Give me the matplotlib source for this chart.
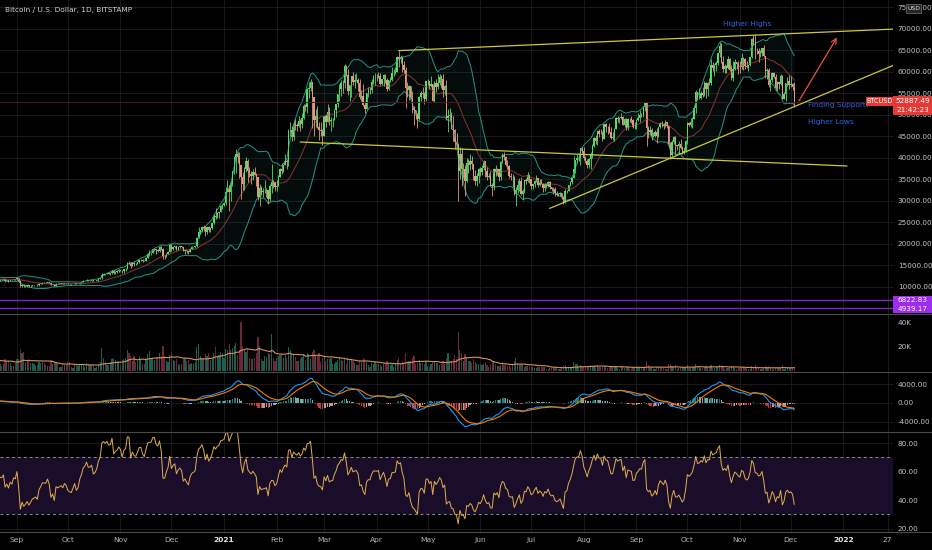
import numpy as np
import pandas as pd
import matplotlib
matplotlib.use('Agg')
import matplotlib.pyplot as plt
import matplotlib.dates as mdates
from matplotlib.patches import Rectangle
from matplotlib.lines import Line2D

# daily candles, first day
start_date = '2020-07-18'
first_open = 9.10

# closes, thousands USD (one row per month)
closes = [
    9.16, 9.19, 9.16, 9.39, 9.54, 9.61, 9.55, 9.71, 9.93, 11.03, 10.94, 11.10, 11.11, 11.35,
    11.80, 11.07, 11.23, 11.19, 11.74, 11.77, 11.60, 11.75, 11.68, 11.88, 11.41, 11.58, 11.78, 11.77, 11.87, 11.91, 12.29, 11.95, 11.75, 11.87, 11.52, 11.67, 11.65, 11.77, 11.35, 11.47, 11.32, 11.54, 11.47, 11.71, 11.68,
    11.97, 11.42, 10.17, 10.47, 10.17, 10.26, 10.37, 10.13, 10.24, 10.36, 10.40, 10.44, 10.33, 10.68, 10.79, 10.95, 10.94, 10.93, 11.08, 10.92, 10.42, 10.53, 10.24, 10.74, 10.69, 10.73, 10.77, 10.70, 10.84, 10.78,
    10.62, 10.57, 10.55, 10.67, 10.79, 10.60, 10.67, 10.92, 11.06, 11.30, 11.38, 11.54, 11.43, 11.43, 11.50, 11.32, 11.36, 11.48, 11.75, 11.92, 12.82, 12.97, 12.93, 13.12, 13.04, 13.07, 13.65, 13.27, 13.46, 13.56, 13.80,
    13.74, 13.55, 14.03, 14.16, 15.59, 15.58, 14.83, 15.48, 15.33, 15.30, 15.70, 16.28, 16.32, 16.07, 15.96, 16.73, 17.66, 17.80, 17.82, 18.68, 18.70, 18.42, 18.37, 19.16, 18.73, 17.15, 17.14, 17.72, 18.18, 19.70,
    18.80, 19.21, 19.44, 18.65, 19.15, 19.36, 19.17, 18.32, 18.55, 18.26, 18.04, 18.80, 19.17, 19.27, 19.44, 21.34, 22.80, 23.13, 23.87, 23.47, 22.75, 23.82, 23.24, 23.73, 24.71, 26.49, 26.28, 27.08, 27.36, 28.84, 29.00,
    29.37, 32.13, 32.78, 31.97, 33.99, 36.82, 39.37, 40.80, 40.25, 38.24, 35.55, 33.92, 37.32, 39.19, 36.82, 36.18, 35.79, 36.63, 36.07, 35.47, 30.85, 33.00, 32.07, 32.28, 32.37, 32.57, 30.43, 33.47, 34.32, 34.27, 33.11,
    33.52, 35.51, 37.47, 36.93, 38.30, 39.26, 38.90, 46.20, 46.48, 44.92, 47.91, 47.50, 47.26, 48.58, 47.91, 49.15, 52.10, 51.68, 55.89, 56.10, 57.53, 54.21, 48.82, 49.71, 47.10, 46.34, 46.19, 45.14,
    49.63, 48.38, 50.54, 48.44, 48.86, 48.88, 51.03, 52.39, 54.88, 55.88, 57.48, 57.33, 61.24, 59.30, 55.60, 56.90, 58.91, 57.65, 58.03, 58.10, 57.35, 54.08, 54.34, 52.30, 51.29, 55.03, 55.82, 55.78, 57.60, 58.76, 58.80,
    58.73, 58.97, 57.06, 58.20, 59.13, 57.99, 56.00, 57.97, 58.09, 59.77, 59.79, 59.99, 63.50, 62.96, 63.31, 61.57, 60.39, 56.15, 55.71, 56.57, 53.81, 51.73, 51.15, 50.05, 49.00, 54.02, 55.05, 54.88, 53.58, 57.75,
    57.83, 56.63, 57.20, 53.24, 57.48, 56.44, 57.33, 58.85, 58.23, 55.86, 56.70, 49.15, 49.72, 49.88, 46.76, 46.45, 43.54, 42.91, 37.00, 40.78, 37.30, 37.47, 34.66, 38.80, 38.32, 39.24, 38.43, 35.69, 34.61, 35.68, 37.29,
    36.69, 37.57, 39.19, 36.88, 35.52, 35.80, 33.55, 33.40, 37.39, 36.70, 37.31, 35.55, 39.02, 40.53, 40.14, 38.35, 38.05, 35.79, 35.48, 35.60, 31.61, 32.51, 33.68, 34.66, 31.59, 32.28, 34.70, 34.49, 35.91, 35.04,
    33.50, 33.80, 34.67, 35.29, 33.69, 34.22, 33.86, 32.88, 33.82, 33.52, 34.26, 33.09, 32.73, 32.82, 31.78, 31.42, 31.53, 31.80, 30.84, 29.79, 32.14, 32.31, 33.58, 34.29, 35.38, 37.27, 39.46, 40.02, 40.02, 42.21, 41.46,
    39.86, 39.15, 38.21, 39.74, 40.87, 42.82, 44.61, 43.79, 46.29, 45.60, 45.58, 44.43, 47.79, 47.10, 47.04, 45.94, 44.69, 44.71, 46.76, 49.34, 48.90, 49.32, 49.55, 47.71, 48.99, 46.85, 49.07, 48.90, 48.81, 47.05, 47.17,
    48.85, 49.29, 50.03, 49.94, 51.77, 52.66, 46.86, 46.07, 46.39, 44.85, 45.16, 46.02, 44.95, 47.13, 48.15, 47.75, 47.30, 48.31, 47.26, 42.99, 40.69, 43.57, 44.90, 42.84, 42.72, 43.21, 42.23, 41.03, 41.52, 43.79,
    48.12, 47.70, 48.21, 49.11, 51.51, 55.36, 53.81, 53.97, 54.96, 54.69, 57.48, 56.04, 57.40, 57.36, 61.67, 60.88, 61.53, 62.04, 64.26, 65.99, 62.21, 60.69, 61.39, 60.93, 63.04, 60.36, 58.47, 60.62, 62.27, 61.89, 61.32,
    61.00, 63.23, 62.94, 61.44, 61.01, 61.53, 63.33, 67.57, 66.97, 64.88, 64.80, 64.14, 64.40, 65.47, 63.56, 60.16, 60.39, 56.89, 58.06, 59.71, 58.73, 56.30, 57.54, 57.14, 58.96, 53.73, 54.74, 57.29, 57.81, 56.98,
    57.23, 56.49, 52.89,
]

highs = [
    9.20, 9.23, 9.22, 9.43, 9.55, 9.66, 9.64, 9.73, 10.10, 11.40, 11.24, 11.34, 11.17, 11.44,
    11.86, 12.05, 11.47, 11.40, 11.78, 11.90, 11.90, 11.80, 11.81, 12.05, 11.93, 11.65, 11.79, 11.85, 11.98, 11.94, 12.46, 12.32, 12.01, 11.89, 11.89, 11.69, 11.72, 11.83, 11.79, 11.53, 11.59, 11.55, 11.57, 11.72, 11.79,
    12.07, 11.98, 11.47, 10.60, 10.57, 10.35, 10.40, 10.44, 10.35, 10.49, 10.40, 10.48, 10.56, 10.79, 10.94, 11.10, 11.04, 11.04, 11.18, 11.08, 10.98, 10.57, 10.57, 10.78, 10.77, 10.80, 10.81, 10.95, 10.87, 10.85,
    10.93, 10.66, 10.60, 10.69, 10.80, 10.80, 10.69, 10.95, 11.10, 11.49, 11.43, 11.72, 11.55, 11.55, 11.55, 11.54, 11.40, 11.50, 11.82, 12.03, 13.22, 13.18, 13.03, 13.16, 13.35, 13.24, 13.78, 13.86, 13.64, 13.67, 14.09,
    13.87, 13.82, 14.07, 14.26, 15.76, 15.96, 15.77, 15.66, 15.83, 15.46, 15.96, 16.34, 16.48, 16.33, 16.14, 16.88, 17.85, 18.48, 18.14, 18.80, 18.96, 18.70, 18.77, 19.42, 19.48, 18.92, 17.43, 17.88, 18.35, 19.86,
    19.92, 19.31, 19.57, 19.52, 19.17, 19.41, 19.40, 19.29, 18.64, 18.56, 18.27, 18.95, 19.41, 19.33, 19.57, 21.55, 23.80, 23.27, 24.17, 24.28, 24.10, 23.84, 24.10, 23.79, 24.80, 26.88, 28.39, 27.40, 27.39, 28.99, 29.30,
    29.60, 33.30, 34.78, 33.60, 34.50, 36.90, 40.36, 41.95, 41.35, 41.40, 38.30, 36.60, 37.80, 40.10, 39.70, 37.90, 36.80, 37.30, 37.80, 36.40, 35.60, 33.80, 33.50, 32.90, 34.80, 32.90, 32.60, 33.80, 38.50, 34.90, 34.40,
    34.70, 35.90, 37.65, 38.70, 38.30, 40.90, 39.70, 46.70, 48.20, 47.30, 48.60, 48.90, 48.10, 49.70, 49.00, 50.50, 52.50, 52.50, 56.30, 57.50, 58.35, 57.50, 54.20, 51.40, 52.00, 48.40, 48.30, 46.60,
    49.80, 50.20, 52.60, 51.70, 49.40, 49.20, 51.40, 52.40, 54.90, 57.20, 58.00, 58.00, 61.70, 61.50, 60.60, 56.90, 58.90, 60.00, 59.40, 59.80, 58.50, 58.40, 55.80, 57.20, 53.20, 55.10, 56.50, 56.50, 58.30, 59.30, 59.80,
    59.40, 60.00, 59.70, 58.40, 59.40, 59.40, 58.60, 58.10, 58.80, 61.00, 60.70, 61.20, 63.70, 64.80, 63.80, 63.50, 62.50, 61.00, 57.50, 57.00, 56.70, 55.40, 52.00, 51.20, 50.50, 54.30, 55.40, 56.40, 55.20, 57.90,
    58.40, 57.90, 58.90, 57.20, 57.80, 58.30, 59.50, 59.50, 59.20, 59.50, 56.80, 58.00, 51.30, 51.50, 50.60, 49.70, 46.60, 45.80, 43.50, 42.40, 42.20, 38.80, 38.20, 39.90, 39.70, 40.80, 40.40, 38.20, 37.20, 36.40, 37.50,
    37.90, 38.20, 39.45, 39.20, 37.90, 36.40, 36.80, 34.10, 37.50, 38.30, 37.60, 37.40, 39.30, 41.00, 41.30, 40.50, 39.50, 38.20, 36.40, 36.20, 35.70, 33.30, 34.80, 35.20, 35.50, 32.70, 34.70, 35.30, 36.60, 36.00,
    35.00, 33.90, 34.90, 35.90, 35.30, 35.00, 35.00, 33.90, 34.00, 34.20, 34.60, 34.60, 33.30, 33.10, 33.20, 32.20, 31.90, 32.10, 31.90, 31.00, 32.80, 32.60, 33.60, 34.50, 35.40, 40.50, 39.50, 40.90, 40.60, 42.30, 42.40,
    42.60, 40.40, 39.70, 39.90, 41.40, 43.30, 44.70, 45.30, 46.40, 46.70, 46.70, 46.20, 47.90, 48.10, 47.40, 48.00, 47.10, 46.00, 47.00, 49.40, 49.80, 49.50, 50.50, 49.80, 49.20, 49.30, 49.20, 49.30, 49.60, 48.90, 48.20,
    48.90, 50.40, 51.00, 50.50, 51.90, 52.90, 52.90, 47.30, 47.30, 47.00, 45.90, 46.40, 46.80, 47.20, 48.40, 48.50, 48.10, 48.80, 48.30, 47.30, 43.60, 44.00, 44.95, 45.00, 42.90, 43.90, 44.30, 42.80, 42.60, 44.10,
    48.40, 48.30, 49.20, 49.50, 51.90, 55.80, 55.30, 56.10, 55.50, 56.40, 57.80, 57.60, 57.70, 58.50, 62.90, 62.30, 61.70, 62.60, 64.40, 67.00, 66.60, 63.70, 61.70, 61.50, 63.70, 63.30, 61.50, 62.50, 62.90, 62.30, 62.40,
    62.40, 64.30, 63.50, 63.10, 62.60, 61.60, 63.40, 67.80, 68.50, 68.80, 65.60, 65.50, 65.00, 65.50, 66.30, 63.60, 60.80, 60.90, 58.40, 59.90, 60.00, 59.50, 57.80, 57.70, 59.40, 59.20, 55.30, 57.40, 58.80, 59.20,
    59.00, 57.40, 57.60,
]

lows = [
    9.09, 9.11, 9.13, 9.15, 9.29, 9.48, 9.43, 9.53, 9.68, 9.90, 10.62, 10.84, 10.83, 10.99,
    11.23, 10.65, 11.02, 11.02, 11.09, 11.59, 11.35, 11.53, 11.55, 11.67, 11.14, 11.27, 11.32, 11.66, 11.70, 11.68, 11.84, 11.82, 11.60, 11.68, 11.49, 11.38, 11.53, 11.59, 11.15, 11.30, 11.13, 11.29, 11.43, 11.46, 11.60,
    11.53, 11.20, 10.01, 9.96, 9.88, 10.03, 9.87, 9.85, 10.03, 10.20, 10.20, 10.30, 10.21, 10.25, 10.63, 10.67, 10.75, 10.82, 10.90, 10.79, 10.36, 10.37, 10.14, 10.20, 10.53, 10.65, 10.62, 10.65, 10.65, 10.69,
    10.55, 10.38, 10.50, 10.52, 10.64, 10.54, 10.57, 10.64, 10.83, 11.05, 11.28, 11.23, 11.30, 11.31, 11.29, 11.24, 11.31, 11.33, 11.41, 11.69, 11.90, 12.69, 12.72, 12.88, 12.89, 12.78, 13.05, 12.94, 12.99, 13.14, 13.44,
    13.62, 13.21, 13.29, 13.55, 14.09, 15.19, 14.37, 14.72, 14.85, 15.09, 15.28, 15.45, 15.95, 15.72, 15.87, 15.89, 16.56, 17.22, 17.35, 17.78, 18.41, 17.62, 18.00, 18.04, 18.54, 16.33, 16.44, 16.88, 17.51, 18.18,
    18.33, 18.52, 18.93, 18.58, 18.62, 18.93, 18.92, 18.20, 17.65, 17.93, 17.58, 18.02, 18.71, 19.00, 19.05, 19.29, 21.23, 22.35, 22.80, 23.06, 21.82, 22.35, 22.65, 22.72, 23.43, 24.50, 25.86, 25.99, 25.88, 27.34, 27.96,
    28.70, 28.94, 32.00, 27.70, 29.90, 33.40, 36.30, 36.50, 38.70, 35.20, 30.30, 32.50, 32.40, 36.70, 34.40, 35.40, 33.90, 34.80, 35.90, 33.40, 30.10, 28.85, 31.40, 30.90, 31.90, 30.80, 29.24, 30.00, 31.90, 32.90, 32.20,
    32.30, 33.40, 35.40, 36.20, 36.60, 38.20, 37.40, 38.10, 45.00, 43.80, 44.20, 46.40, 46.20, 47.10, 46.30, 47.00, 48.90, 50.90, 50.50, 53.90, 55.50, 47.00, 45.00, 47.10, 46.80, 44.10, 45.00, 43.00,
    45.10, 47.10, 48.20, 47.50, 46.30, 47.10, 48.80, 49.40, 51.85, 53.10, 54.30, 55.10, 56.10, 59.00, 54.60, 53.30, 54.20, 57.00, 56.30, 57.90, 55.60, 53.70, 53.10, 52.10, 50.40, 51.40, 54.00, 54.80, 55.00, 57.20, 56.90,
    57.90, 58.50, 56.90, 56.80, 56.60, 57.30, 55.40, 55.70, 57.50, 57.90, 59.00, 59.40, 59.90, 61.00, 62.00, 60.00, 59.80, 51.50, 54.20, 53.50, 53.60, 50.50, 47.50, 48.90, 47.00, 48.80, 53.30, 53.90, 52.40, 53.10,
    57.00, 56.00, 56.50, 53.10, 52.90, 55.20, 56.00, 56.90, 56.30, 54.00, 54.50, 48.70, 46.00, 48.80, 46.60, 43.80, 42.10, 42.30, 30.00, 35.00, 33.50, 35.30, 31.20, 34.40, 36.50, 37.20, 37.30, 34.70, 33.60, 33.40, 34.20,
    35.70, 35.90, 37.20, 35.60, 34.80, 35.30, 33.40, 31.00, 32.40, 35.80, 35.90, 34.60, 34.80, 38.80, 39.50, 38.10, 37.40, 35.20, 34.80, 33.30, 31.30, 28.80, 31.70, 32.30, 31.30, 30.20, 31.90, 33.90, 34.30, 34.00,
    32.70, 32.70, 33.30, 34.30, 33.20, 33.50, 33.80, 32.10, 32.30, 33.00, 33.30, 32.70, 32.30, 31.60, 31.20, 31.10, 31.20, 31.20, 30.50, 29.30, 29.50, 31.70, 32.20, 33.40, 33.90, 35.30, 36.40, 38.80, 39.30, 38.40, 41.10,
    39.50, 38.70, 37.60, 37.50, 37.40, 39.90, 42.50, 43.10, 42.90, 44.70, 45.40, 43.80, 44.30, 46.00, 45.50, 45.70, 44.40, 44.20, 43.90, 46.70, 48.30, 48.10, 49.10, 47.60, 47.20, 46.40, 46.40, 48.40, 48.00, 46.90, 46.70,
    46.60, 48.60, 48.40, 49.50, 49.50, 50.90, 42.80, 44.50, 45.60, 44.20, 44.80, 44.80, 43.40, 44.80, 46.80, 47.10, 46.70, 47.10, 46.90, 42.60, 39.60, 40.50, 43.10, 40.80, 41.70, 40.80, 42.10, 40.90, 40.80, 41.40,
    43.30, 47.40, 47.10, 46.90, 49.10, 50.40, 53.40, 53.70, 53.70, 54.10, 54.40, 53.90, 54.30, 56.90, 56.90, 60.20, 58.90, 60.20, 61.50, 63.50, 62.00, 60.00, 59.70, 59.60, 60.70, 60.10, 58.10, 57.80, 60.30, 60.70, 59.50,
    59.80, 60.70, 60.40, 60.70, 60.80, 60.20, 61.40, 63.20, 66.30, 63.00, 64.10, 62.30, 63.50, 63.60, 63.40, 58.60, 58.40, 56.50, 55.60, 57.50, 58.50, 55.70, 55.40, 55.90, 57.00, 53.60, 53.70, 53.30, 56.70, 56.00,
    56.50, 55.80, 51.70,
]

# volume, thousands BTC
volumes = [
    3.8, 3.6, 3.9, 5.7, 5.9, 6.3, 5.4, 4.7, 8.1, 21.3, 15.8, 11.7, 9.2, 9.8,
    11.9, 18.8, 9.3, 8.6, 11.1, 9.0, 9.5, 5.7, 5.3, 10.4, 13.2, 9.2, 9.9, 7.1, 6.2, 5.9, 11.7, 9.8, 10.1, 6.5, 8.4, 5.4, 4.2, 5.9, 9.6, 7.4, 8.3, 6.6, 4.1, 4.4, 6.2,
    9.5, 10.2, 18.0, 14.5, 15.5, 7.0, 9.0, 9.5, 6.5, 6.8, 5.5, 3.8, 4.5, 7.5, 6.8, 7.2, 6.5, 5.0, 4.2, 4.0, 9.0, 5.5, 7.0, 7.5, 5.5, 3.2, 3.0, 5.5, 4.8, 4.5,
    7.0, 7.5, 2.8, 2.6, 4.5, 5.5, 4.0, 5.5, 6.0, 5.5, 3.0, 6.5, 5.5, 4.8, 4.5, 5.0, 2.5, 2.8, 5.5, 7.0, 19.0, 11.0, 7.5, 5.0, 5.0, 7.5, 9.5, 11.0, 9.0, 8.5, 7.0,
    5.0, 9.0, 9.5, 10.5, 17.5, 14.5, 12.0, 8.0, 12.0, 7.5, 8.0, 12.0, 9.5, 6.0, 5.5, 9.5, 14.0, 16.5, 11.0, 10.5, 9.0, 10.5, 11.5, 14.5, 12.5, 21.0, 12.5, 8.5, 7.5, 13.5,
    15.5, 9.0, 8.5, 9.5, 5.5, 5.0, 6.0, 9.5, 11.0, 8.0, 9.0, 6.0, 6.5, 6.0, 7.5, 19.5, 22.5, 12.5, 11.0, 10.0, 14.0, 12.0, 15.0, 9.0, 9.5, 14.5, 19.5, 12.0, 13.0, 16.0, 14.5,
    10.5, 18.0, 17.0, 22.0, 17.0, 19.0, 21.0, 23.0, 13.0, 17.0, 41.0, 21.0, 17.5, 16.0, 18.0, 10.5, 10.0, 9.5, 11.0, 15.0, 28.0, 21.0, 9.5, 8.5, 12.0, 11.5, 14.5, 14.0, 31.0, 11.0, 8.5,
    11.0, 12.5, 13.0, 14.0, 10.5, 13.5, 11.0, 20.0, 17.5, 14.0, 13.0, 11.5, 8.5, 8.5, 10.0, 11.5, 14.0, 9.0, 14.5, 14.0, 9.5, 16.0, 17.5, 12.5, 12.0, 15.0, 7.5, 10.5,
    12.0, 8.5, 10.0, 10.0, 11.0, 5.5, 6.0, 7.5, 9.0, 10.5, 9.0, 8.5, 9.5, 5.5, 11.5, 10.0, 9.5, 8.0, 6.5, 4.5, 4.8, 8.5, 7.0, 10.5, 10.0, 7.5, 4.5, 3.5, 6.5, 6.0, 7.0,
    5.5, 5.5, 5.0, 4.0, 5.5, 5.5, 8.0, 5.5, 4.5, 5.5, 3.5, 5.5, 9.0, 11.0, 6.0, 8.5, 5.5, 15.0, 8.5, 8.5, 8.0, 11.0, 12.0, 6.0, 6.5, 9.0, 6.5, 6.5, 6.0, 8.0,
    4.0, 3.5, 5.5, 8.5, 8.0, 6.5, 6.5, 5.0, 5.5, 8.5, 6.0, 11.0, 15.0, 8.0, 8.5, 10.0, 13.0, 10.0, 32.0, 17.0, 14.5, 8.0, 14.0, 11.5, 8.5, 8.0, 6.5, 9.5, 7.0, 5.5, 6.0,
    6.0, 5.0, 5.5, 7.0, 4.5, 3.0, 5.0, 8.5, 7.5, 6.0, 4.0, 4.0, 5.0, 7.0, 5.0, 4.5, 4.0, 5.0, 3.5, 4.5, 8.0, 10.5, 6.0, 4.5, 5.5, 4.5, 3.5, 4.0, 4.0, 3.5,
    3.5, 3.0, 2.0, 2.2, 3.0, 3.0, 2.8, 3.5, 2.8, 1.8, 1.7, 2.6, 2.5, 2.8, 2.8, 2.5, 1.5, 1.6, 2.8, 4.0, 4.5, 2.8, 2.5, 2.0, 3.5, 7.5, 5.5, 5.5, 3.5, 4.5, 2.8,
    3.0, 3.2, 3.5, 3.5, 4.5, 4.0, 4.0, 3.5, 4.5, 3.5, 3.0, 3.5, 3.8, 2.8, 2.7, 3.0, 3.5, 3.0, 3.3, 4.0, 2.5, 1.8, 3.0, 3.2, 2.7, 3.0, 2.8, 1.8, 1.8, 2.8, 3.0,
    3.0, 3.5, 3.5, 2.0, 2.3, 3.2, 8.0, 4.5, 2.8, 3.0, 1.8, 1.8, 3.5, 2.8, 2.5, 2.3, 2.5, 1.7, 1.5, 5.5, 5.5, 4.0, 3.0, 4.5, 1.8, 2.5, 2.5, 2.8, 2.5, 3.0,
    5.0, 2.2, 2.0, 3.0, 3.5, 6.0, 3.8, 3.5, 2.2, 2.5, 3.3, 4.0, 3.5, 2.8, 5.0, 2.6, 2.3, 3.0, 3.5, 4.5, 4.5, 3.8, 1.8, 2.0, 2.5, 3.0, 4.0, 3.8, 2.5, 1.5, 2.0,
    2.2, 2.8, 2.8, 2.2, 2.0, 1.5, 1.4, 3.6, 3.5, 4.5, 2.3, 2.6, 1.4, 1.3, 2.5, 4.0, 2.8, 3.8, 3.0, 1.3, 1.2, 2.6, 2.4, 2.0, 2.1, 4.8, 1.8, 2.1, 2.3, 3.1,
    2.4, 2.2, 3.0,
]

last_price = 52887.49
last_time = '21:42:23'
levels = [6822.83, 4939.17]

price_ticks = list(range(10000, 75001, 5000))
vol_ticks = [20000, 40000]
macd_ticks = [-4000, 0, 4000]
rsi_ticks = [20, 40, 60, 80]
time_ticks = ['2020-09-01', '2020-10-01', '2020-11-01', '2020-12-01', '2021-01-01', '2021-02-01',
              '2021-03-01', '2021-04-01', '2021-05-01', '2021-06-01', '2021-07-01', '2021-08-01',
              '2021-09-01', '2021-10-01', '2021-11-01', '2021-12-01', '2022-01-01', '2022-01-27']
time_labels = ['Sep', 'Oct', 'Nov', 'Dec', '2021', 'Feb', 'Mar', 'Apr', 'May', 'Jun', 'Jul', 'Aug',
               'Sep', 'Oct', 'Nov', 'Dec', '2022', '27']

# ---- series
n = min(len(closes), len(highs), len(lows), len(volumes))
c = np.array(closes[:n]) * 1000
o = np.concatenate([[first_open * 1000], c[:-1]])
h = np.maximum(np.array(highs[:n]) * 1000, np.maximum(o, c))
l = np.minimum(np.array(lows[:n]) * 1000, np.minimum(o, c))
v = np.array(volumes[:n]) * 1000
dates = pd.date_range(start_date, periods=n, freq='D')
x = mdates.date2num(dates)
up = c >= o

cs = pd.Series(c)
basis = cs.rolling(20).mean()
dev = cs.rolling(20).std(ddof=0)
bb_up = basis + 2 * dev
bb_lo = basis - 2 * dev

macd = cs.ewm(span=12, adjust=False).mean() - cs.ewm(span=26, adjust=False).mean()
signal = macd.ewm(span=9, adjust=False).mean()
hist = macd - signal

delta = cs.diff()
gain = delta.clip(lower=0).ewm(alpha=1 / 14, adjust=False).mean()
loss = (-delta.clip(upper=0)).ewm(alpha=1 / 14, adjust=False).mean()
rsi = 100 - 100 / (1 + gain / loss)

vol_ma = pd.Series(v).rolling(20).mean()

# ---- layout in pixels
W, H = 932, 550
fig = plt.figure(figsize=(W / 100, H / 100), dpi=100, facecolor='black')
plot_w = 893


def px_axes(top, bottom, share=None):
    return fig.add_axes([0, 1 - bottom / H, plot_w / W, (bottom - top) / H], sharex=share)


ax_p = px_axes(0, 314)
ax_v = px_axes(314, 372, ax_p)
ax_m = px_axes(372, 432, ax_p)
ax_r = px_axes(432, 532, ax_p)

grid_c = '#1f1f1f'
label_c = '#c4c4c4'
tick_x = mdates.date2num(pd.to_datetime(time_ticks))

for ax in (ax_p, ax_v, ax_m, ax_r):
    ax.set_facecolor('black')
    for s in ax.spines.values():
        s.set_visible(False)
    ax.yaxis.tick_right()
    ax.tick_params(axis='y', length=0, pad=3.5, labelsize=5.2, colors=label_c)
    ax.tick_params(axis='x', length=0, labelbottom=False)
    ax.set_xticks(tick_x)
    ax.grid(True, color=grid_c, lw=0.6)
    ax.set_axisbelow(True)

ax_p.set_xlim(mdates.date2num(pd.Timestamp('2020-08-22')), mdates.date2num(pd.Timestamp('2022-01-30 05:00')))

# ---- price panel
ax_p.set_ylim(3651, 76674)
ax_p.set_yticks(price_ticks)
ax_p.set_yticklabels([f'{t:.2f}' for t in price_ticks])

ax_p.fill_between(x, bb_lo, bb_up, color='#1e7a6e', alpha=0.10, lw=0)
ax_p.plot(x, bb_up, color='#259484', lw=0.7)
ax_p.plot(x, bb_lo, color='#259484', lw=0.7)
ax_p.plot(x, basis, color='#8e3030', lw=0.7)

candle_col = np.where(up, '#52dc68', '#e39a82')
ax_p.vlines(x, l, h, colors=candle_col, lw=0.6)
ax_p.bar(x, np.abs(c - o), bottom=np.minimum(o, c), width=0.8, color=candle_col, lw=0)

ax_p.axhline(last_price, color='#4e1620', lw=0.7)
for lv in levels:
    ax_p.axhline(lv, color='#7b2cbf', lw=1.0)

# drawings
line_c = '#c9c93e'
ax_p.plot(pd.to_datetime(['2021-04-14', '2022-01-30']), [64900, 69900], color=line_c, lw=0.9)
ax_p.plot(pd.to_datetime(['2021-02-15', '2022-01-03']), [43650, 38070], color=line_c, lw=0.9)
ax_p.plot(pd.to_datetime(['2021-07-12', '2022-01-30']), [28230, 61400], color=line_c, lw=0.9)
ax_p.annotate('', xy=(mdates.date2num(pd.Timestamp('2021-12-29')), 68500),
              xytext=(mdates.date2num(pd.Timestamp('2021-12-05')), 52700),
              arrowprops=dict(arrowstyle='->', color='#e8534a', lw=0.9, mutation_scale=9))
txt_c = '#2f62e8'
ax_p.text(pd.Timestamp('2021-11-05'), 71100, 'Higher Highs', color=txt_c, fontsize=5.4, ha='center', va='center')
ax_p.text(pd.Timestamp('2021-12-11'), 52300, 'Finding Support?', color=txt_c, fontsize=5.3, ha='left', va='center')
ax_p.text(pd.Timestamp('2021-12-11'), 48300, 'Higher Lows', color=txt_c, fontsize=5.4, ha='left', va='center')

# ---- volume panel
ax_v.set_ylim(-1000, 47300)
ax_v.set_yticks(vol_ticks)
ax_v.set_yticklabels(['20K', '40K'])
ax_v.grid(False, axis='y')
ax_v.bar(x, v, width=0.7, color=np.where(up, '#18604f', '#702536'), lw=0)
ax_v.plot(x, vol_ma, color='#d8915a', lw=0.8)

# ---- MACD panel
ax_m.set_ylim(-6190, 6550)
ax_m.set_yticks(macd_ticks)
ax_m.set_yticklabels([f'{t:.2f}' for t in macd_ticks])
prev = hist.shift(1)
hist_col = np.where(hist >= 0, np.where(hist >= prev, '#26a69a', '#b2dfdb'),
                    np.where(hist < prev, '#ff5252', '#ffcdd2'))
ax_m.bar(x, hist, width=0.7, color=hist_col, alpha=0.75, lw=0)
ax_m.plot(x, macd, color='#2196f3', lw=0.8)
ax_m.plot(x, signal, color='#f57c00', lw=0.8)

# ---- RSI panel
ax_r.set_ylim(17.7, 87.9)
ax_r.set_yticks(rsi_ticks)
ax_r.set_yticklabels([f'{t:.2f}' for t in rsi_ticks])
ax_r.axhspan(30, 70, color='#1a0d29', lw=0)
ax_r.axhline(70, color='#8c8c8c', lw=0.7, ls=(0, (3, 3)))
ax_r.axhline(30, color='#8c8c8c', lw=0.7, ls=(0, (3, 3)))
ax_r.plot(x, rsi, color='#dfae4f', lw=0.7)

ax_r.tick_params(axis='x', labelbottom=True, labelsize=5.4, colors='#b4b4b4', pad=3.5)
ax_r.set_xticklabels(time_labels)
for lab in ax_r.get_xticklabels():
    if lab.get_text() in ('2021', '2022'):
        lab.set_color('#e6e6e6')
        lab.set_fontweight('bold')

# ---- figure furniture (pixel helpers)
def fx(px):
    return px / W


def fy(py):
    return 1 - py / H


for py in (314, 372, 432, 532):
    fig.add_artist(Line2D([0, 1], [fy(py), fy(py)], color='#4a4a4a', lw=0.8))


def px_box(x0, y0, x1, y1, fc, ec='none'):
    fig.add_artist(Rectangle((fx(x0), fy(y1)), fx(x1 - x0), (y1 - y0) / H,
                             facecolor=fc, edgecolor=ec, lw=0.5, zorder=5))


fig.text(fx(5), fy(10), 'Bitcoin / U.S. Dollar, 1D, BITSTAMP', color='#d2d2d2', fontsize=5.3, va='center')

px_box(906, 4.5, 921, 13, '#262626', '#777777')
fig.text(fx(913.5), fy(8.8), 'USD', color='#dddddd', fontsize=4.4, ha='center', va='center', zorder=6)

px_box(866, 96.5, 893, 106, '#e53935')
fig.text(fx(879.5), fy(101.3), 'BTCUSD', color='white', fontsize=4.7, ha='center', va='center', zorder=6)
px_box(893, 96, 932, 115, '#e53935')
fig.text(fx(912.5), fy(101), f'{last_price:.2f}', color='white', fontsize=5.2, ha='center', va='center', zorder=6)
fig.text(fx(912.5), fy(110), last_time, color='white', fontsize=5.2, ha='center', va='center', zorder=6)

px_box(893, 296, 932, 304.8, '#9b2cf0')
fig.text(fx(912.5), fy(300.4), f'{levels[0]:.2f}', color='white', fontsize=5.2, ha='center', va='center', zorder=6)
px_box(893, 304.8, 932, 313.2, '#9b2cf0')
fig.text(fx(912.5), fy(309), f'{levels[1]:.2f}', color='white', fontsize=5.2, ha='center', va='center', zorder=6)

fig.savefig('out.png', dpi=100, facecolor='black')
